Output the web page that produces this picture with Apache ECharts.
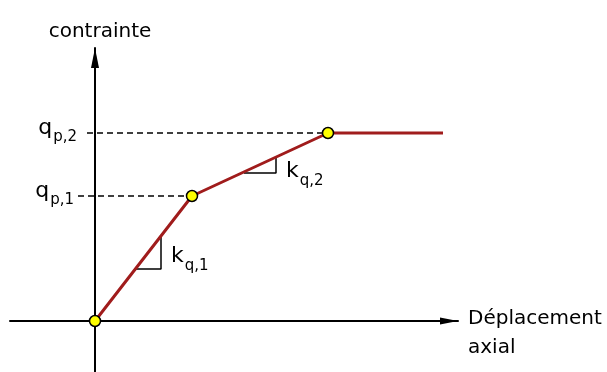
<!DOCTYPE html>
<html>
<head>
<meta charset="utf-8">
<script src="https://cdn.jsdelivr.net/npm/echarts@6.0.0/dist/echarts.min.js"></script>
<style>
    html, body { margin: 0; padding: 0; background: #fff; }
    #chart { width: 607px; height: 372px; }
</style>
</head>
<body>
<div id="chart"></div>
<script>
// courbe contrainte / déplacement (unités arbitraires)
const displacement = [0, 9.7, 23.3, 34.8];
const stress = [0, 12.5, 18.8, 18.8];
const levelValues = [12.5, 18.8];
const levelNames = ['p,1', 'p,2'];
const slopeNames = ['q,1', 'q,2'];
const slope1X = [4.0, 6.6, 6.6];
const slope1Y = [5.2, 5.2, 8.4];
const slope2X = [14.9, 18.1, 18.1];
const slope2Y = [14.8, 14.8, 16.4];

const font = 'DejaVu Sans';
const red = '#a01c1c';

const rich = {
    m: { fontFamily: font, fontSize: 22, color: '#000' },
    s: { fontFamily: font, fontSize: 15, color: '#000', padding: [19, 0, 0, 1] },
};

function zip(xs, ys) {
    return xs.map((x, i) => [x, ys[i]]);
}

function slopeSeries(xs, ys) {
    return {
        type: 'line',
        data: zip(xs, ys),
        symbol: 'none',
        z: 1,
        lineStyle: { color: '#000', width: 1.5 },
    };
}

// série invisible qui ne sert qu'à porter des étiquettes
function labelSeries(data, position, formatter) {
    return {
        type: 'scatter',
        data: data,
        symbol: 'rect',
        symbolSize: 2,
        z: 4,
        silent: true,
        itemStyle: { color: 'transparent', opacity: 1 },
        label: {
            show: true,
            position: position,
            color: '#000',
            formatter: formatter,
            rich: rich,
        },
    };
}

const chart = echarts.init(document.getElementById('chart'));

const mainData = zip(displacement, stress).map((v, i) =>
    i === displacement.length - 1 ? { value: v, symbol: 'none' } : { value: v }
);

// k : accrochées au coin droit de chaque triangle
const slopeLabels = [
    { value: [slope1X[1], slope1Y[1]], label: { distance: 9, offset: [0, -12.5] } },
    { value: [slope2X[1], slope2Y[1]], label: { distance: 9, offset: [0, -1.5] } },
];
// q : à gauche de l'axe vertical
const levelLabels = [
    { value: [0, levelValues[0]], label: { distance: 20, offset: [0, -5] } },
    { value: [0, levelValues[1]], label: { distance: 17, offset: [0, -5] } },
];

const option = {
    animation: false,
    grid: { left: 10, right: 149, top: 48, bottom: 0, containLabel: false, outerBoundsMode: 'none' },
    xAxis: {
        type: 'value',
        min: -8.5,
        max: 36.3,
        name: '{e| }\n{a|Déplacement}\n{a|axial}',
        nameLocation: 'end',
        nameGap: 10,
        nameTextStyle: {
            align: 'left',
            verticalAlign: 'middle',
            rich: {
                e: { fontFamily: font, fontSize: 20, lineHeight: 25 },
                a: { fontFamily: font, fontSize: 20, lineHeight: 29, color: '#000' },
            },
        },
        axisLine: {
            onZero: true,
            symbol: ['none', 'triangle'],
            symbolSize: [7, 18],
            symbolOffset: [0, -9],
            lineStyle: { color: '#000', width: 2 },
        },
        axisTick: { show: false },
        axisLabel: { show: false },
        splitLine: { show: false },
    },
    yAxis: {
        type: 'value',
        min: -5.1,
        max: 27.3,
        name: 'contrainte',
        nameLocation: 'end',
        nameGap: 6,
        nameTextStyle: { fontFamily: font, fontSize: 20, color: '#000', padding: [0, 0, 0, 10] },
        axisLine: {
            onZero: true,
            symbol: ['none', 'triangle'],
            symbolSize: [8, 20],
            symbolOffset: [0, -10],
            lineStyle: { color: '#000', width: 2 },
        },
        axisTick: { show: false },
        axisLabel: { show: false },
        splitLine: { show: false },
    },
    series: [
        slopeSeries(slope1X, slope1Y),
        slopeSeries(slope2X, slope2Y),
        {
            type: 'line',
            data: mainData,
            z: 3,
            symbol: 'circle',
            symbolSize: 11,
            showAllSymbol: true,
            lineStyle: { color: red, width: 3 },
            itemStyle: { color: '#ffff00', borderColor: '#000', borderWidth: 1.5 },
            markLine: {
                silent: true,
                symbol: ['none', 'none'],
                label: { show: false },
                lineStyle: { color: '#000', width: 1.5, type: [6, 4] },
                data: [
                    [{ coord: [-0.8, stress[2]] }, { coord: [displacement[2] - 0.55, stress[2]] }],
                    [{ coord: [-1.7, stress[1]] }, { coord: [displacement[1] - 0.55, stress[1]] }],
                ],
            },
        },
        labelSeries(slopeLabels, 'right', p => '{m|k}{s|' + slopeNames[p.dataIndex] + '}'),
        labelSeries(levelLabels, 'left', p => '{m|q}{s|' + levelNames[p.dataIndex] + '}'),
    ],
};

chart.setOption(option);
</script>
</body>
</html>
